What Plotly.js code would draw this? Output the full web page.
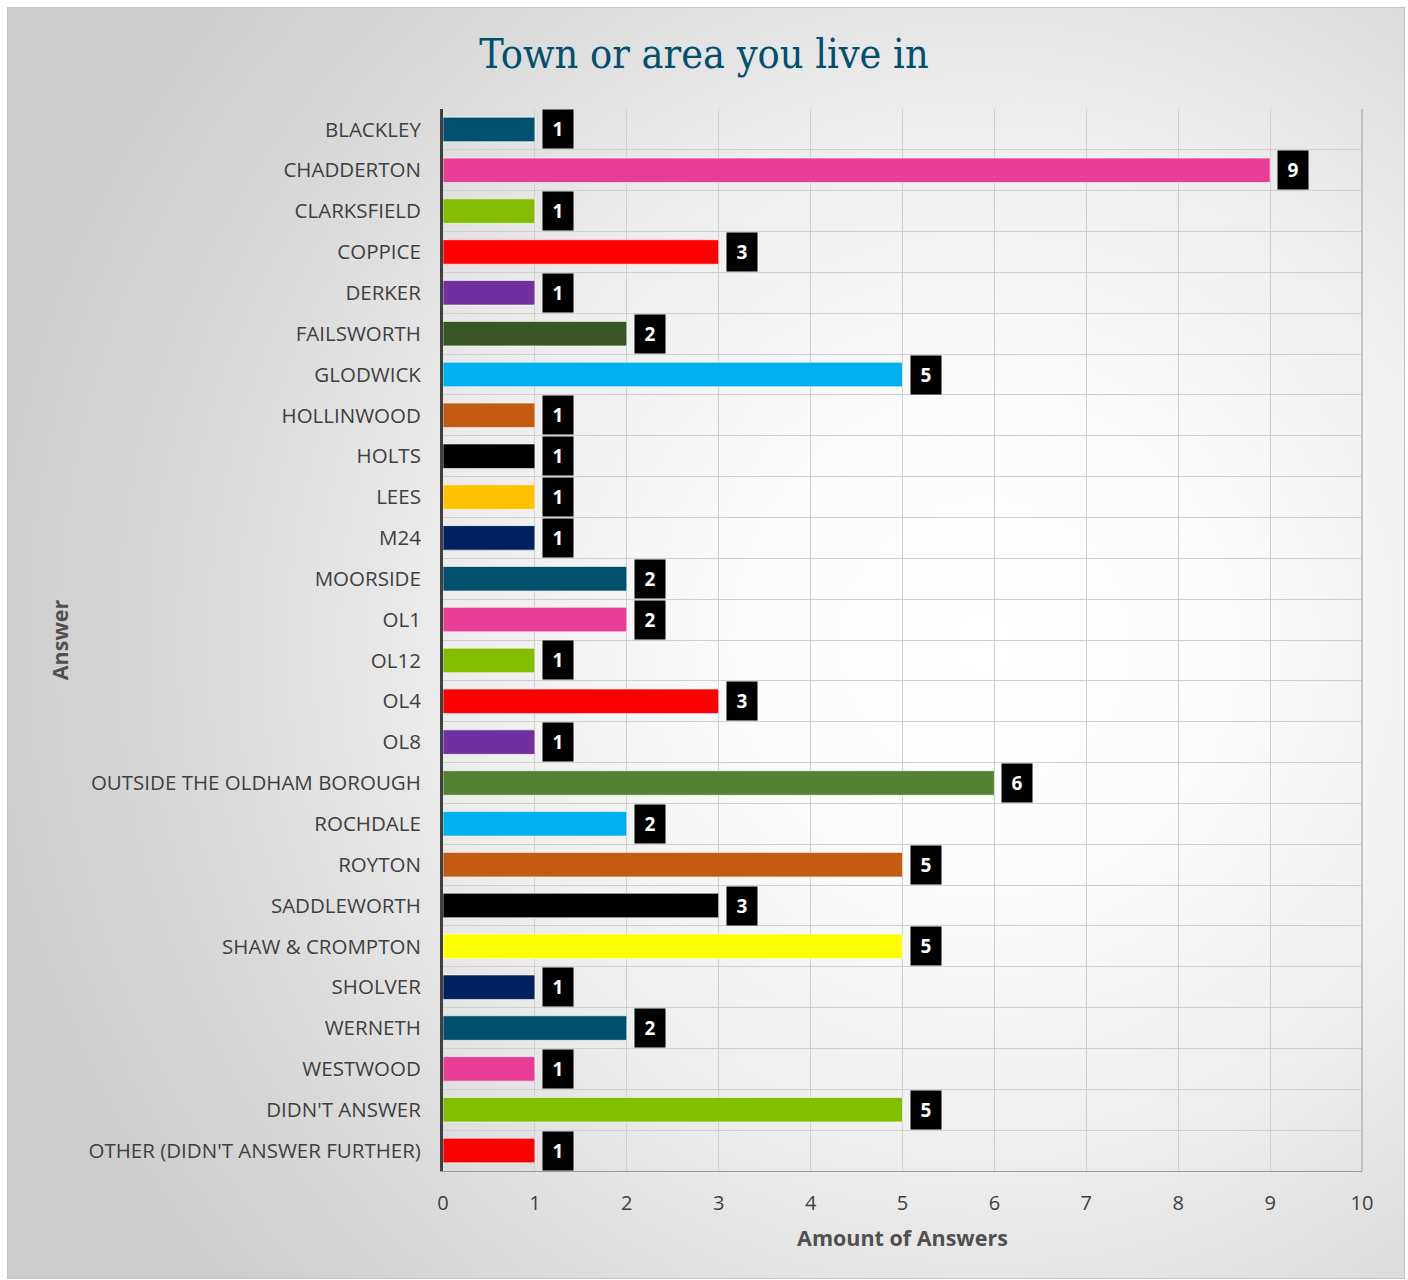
<!DOCTYPE html>
<html>
<head>
<meta charset="utf-8">
<script src="https://cdn.plot.ly/plotly-3.0.1.min.js"></script>
<style>
  html, body { margin: 0; padding: 0; width: 1408px; height: 1280px; background: #ffffff; overflow: hidden; }
  #bg { position: absolute; left: 7px; top: 7px; width: 1396px; height: 1270px; border: 1px solid #c4c4c4;
        background: radial-gradient(circle 1000px at 70% 50%, #ffffff 0%, #fbfbfb 25%, #efefef 50%, #dcdcdc 76%, #cdcdcd 100%); }
  #chart { position: absolute; left: 0; top: 0; width: 1408px; height: 1280px; }
</style>
</head>
<body>
<div id="bg"></div>
<div id="chart"></div>
<script>
const categories = ["BLACKLEY","CHADDERTON","CLARKSFIELD","COPPICE","DERKER","FAILSWORTH","GLODWICK","HOLLINWOOD","HOLTS","LEES","M24","MOORSIDE","OL1","OL12","OL4","OL8","OUTSIDE THE OLDHAM BOROUGH","ROCHDALE","ROYTON","SADDLEWORTH","SHAW & CROMPTON","SHOLVER","WERNETH","WESTWOOD","DIDN'T ANSWER","OTHER (DIDN'T ANSWER FURTHER)"];
const values = [1,9,1,3,1,2,5,1,1,1,1,2,2,1,3,1,6,2,5,3,5,1,2,1,5,1];
const barColors = ["#00506e","#e83e96","#84bd00","#ff0000","#7030a0","#375623","#00b0f0","#c55a11","#000000","#ffc000","#002060","#00506e","#e83e96","#84bd00","#ff0000","#7030a0","#548235","#00b0f0","#c55a11","#000000","#ffff00","#002060","#00506e","#e83e96","#84bd00","#ff0000"];
const xTicks = [0,1,2,3,4,5,6,7,8,9,10];

const trace = {
  type: "bar",
  orientation: "h",
  x: values,
  y: categories,
  marker: { color: barColors, line: { color: "rgba(255,255,255,0.6)", width: 1 } },
  hoverinfo: "x+y"
};

const annotations = categories.map((c, i) => ({
  x: values[i], y: c, xref: "x", yref: "y",
  text: "<b>" + values[i] + "</b>",
  showarrow: false, xanchor: "left", yanchor: "middle", xshift: 7,
  bgcolor: "#000000", width: 28, height: 36, borderpad: 1, align: "center", valign: "middle",
  font: { family: "Open Sans, sans-serif", size: 19, color: "#ffffff" }
}));

const layout = {
  width: 1408, height: 1280,
  paper_bgcolor: "rgba(0,0,0,0)",
  plot_bgcolor: "rgba(0,0,0,0)",
  margin: { l: 443, r: 46, t: 109, b: 109 },
  bargap: 0.4,
  showlegend: false,
  title: {
    text: "Town or area you live in",
    x: 0.5, xanchor: "center", y: 0.958, yanchor: "middle", xref: "container",
    font: { family: "DejaVu Serif Condensed, DejaVu Serif, serif", size: 41, color: "#00506e" }
  },
  xaxis: {
    range: [0, 10], tickvals: xTicks, ticktext: xTicks.map(String),
    showgrid: true, gridcolor: "#cfcfcf", gridwidth: 1,
    zeroline: false, showline: true, linecolor: "#9a9a9a", linewidth: 1,
    ticks: "", ticklabelstandoff: 14,
    tickfont: { family: "Open Sans, sans-serif", size: 20, color: "#404040" },
    title: { text: "<b>Amount of Answers</b>", standoff: 15,
             font: { family: "Open Sans, sans-serif", size: 21.5, color: "#505050" } },
    fixedrange: true
  },
  yaxis: {
    type: "category", categoryorder: "array", categoryarray: categories,
    autorange: "reversed",
    showgrid: true, tickson: "boundaries", gridcolor: "#cfcfcf", gridwidth: 1,
    showline: true, linecolor: "#404040", linewidth: 3,
    ticks: "", ticklabelstandoff: 15,
    tickfont: { family: "Open Sans, sans-serif", size: 20.5, color: "#404040" },
    title: { text: "<b>Answer</b>", standoff: 14,
             font: { family: "Open Sans, sans-serif", size: 21.5, color: "#505050" } },
    fixedrange: true
  },
  annotations: annotations,
  shapes: [
    { type: "line", xref: "paper", yref: "paper", x0: 1, x1: 1, y0: 0, y1: 1,
      line: { color: "#9a9a9a", width: 1 } }
  ]
};

Plotly.newPlot("chart", [trace], layout, { displayModeBar: false, responsive: false });
</script>
</body>
</html>
